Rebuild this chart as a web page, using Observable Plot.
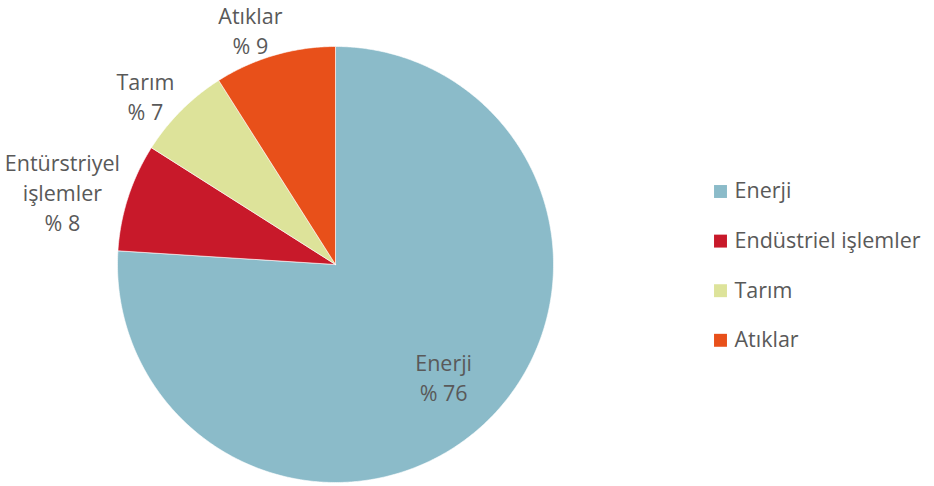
<!DOCTYPE html>
<html>
<head>
<meta charset="utf-8">
<script src="https://cdn.jsdelivr.net/npm/d3@7"></script>
<script src="https://cdn.jsdelivr.net/npm/@observablehq/plot@0.6"></script>
<style>
  html, body { margin: 0; padding: 0; background: #fff; }
  #chart svg { display: block; }
</style>
</head>
<body>
<div id="chart"></div>
<script>
// ---- data ----
const categories = ["Enerji", "Endüstriel işlemler", "Tarım", "Atıklar"];
const sliceLabels = ["Enerji", "Entürstriyel\nişlemler", "Tarım", "Atıklar"];
const shares = [76, 8, 7, 9];
const colors = ["#8BBBC9", "#C8192A", "#DDE39A", "#E8501A"];

// ---- layout ----
const W = 934, H = 486;
const cx = 335, cy = 264, R = 218;
// label placement: [radius factor, angle nudge in degrees] per slice
const labelPlace = [[0.714, -0.8], [1.297, -3.0], [1.166, -3.4], [1.147, -3.7]];

const pie = d3.pie().sort(null).value(d => d)(shares);

// polygon points for each slice (angle clockwise from 12 o'clock)
const slicePts = [];
pie.forEach((p, i) => {
  slicePts.push({cat: categories[i], x: 0, y: 0});
  const n = Math.max(2, Math.ceil((p.endAngle - p.startAngle) / (Math.PI / 360)));
  for (let k = 0; k <= n; k++) {
    const a = p.startAngle + (p.endAngle - p.startAngle) * k / n;
    slicePts.push({cat: categories[i], x: Math.sin(a), y: Math.cos(a)});
  }
  slicePts.push({cat: categories[i], x: 0, y: 0});
});

const labels = pie.map((p, i) => {
  const mid = (p.startAngle + p.endAngle) / 2 + labelPlace[i][1] * Math.PI / 180;
  const k = labelPlace[i][0];
  return {text: `${sliceLabels[i]}\n% ${shares[i]}`, x: Math.sin(mid) * k, y: Math.cos(mid) * k};
});

const toX = px => (px - cx) / R;
const toY = py => (cy - py) / R;
const legend = categories.map((c, i) => ({cat: c, y: toY(191 + i * 49.6)}));

const font = "'Open Sans', 'Noto Sans', sans-serif";

const chart = Plot.plot({
  width: W,
  height: H,
  marginLeft: cx - R,
  marginRight: W - (cx + R),
  marginTop: cy - R,
  marginBottom: H - (cy + R),
  x: {domain: [-1, 1], axis: null},
  y: {domain: [-1, 1], axis: null},
  color: {domain: categories, range: colors},
  style: {fontFamily: font, background: "#fff"},
  marks: [
    Plot.line(slicePts, {x: "x", y: "y", z: "cat", fill: "cat", stroke: "#fff", strokeWidth: 0.6, curve: "linear-closed"}),
    Plot.text(labels, {x: "x", y: "y", text: "text", fontSize: 21.5, lineHeight: 1.4, fill: "#595959", textAnchor: "middle"}),
    Plot.dot(legend, {x: toX(720), y: "y", fill: "cat", symbol: "square", r: 7.3, stroke: null}),
    Plot.text(legend, {x: toX(734), y: "y", text: "cat", fontSize: 21.5, fill: "#595959", textAnchor: "start"})
  ]
});
document.getElementById("chart").appendChild(chart);
</script>
</body>
</html>
